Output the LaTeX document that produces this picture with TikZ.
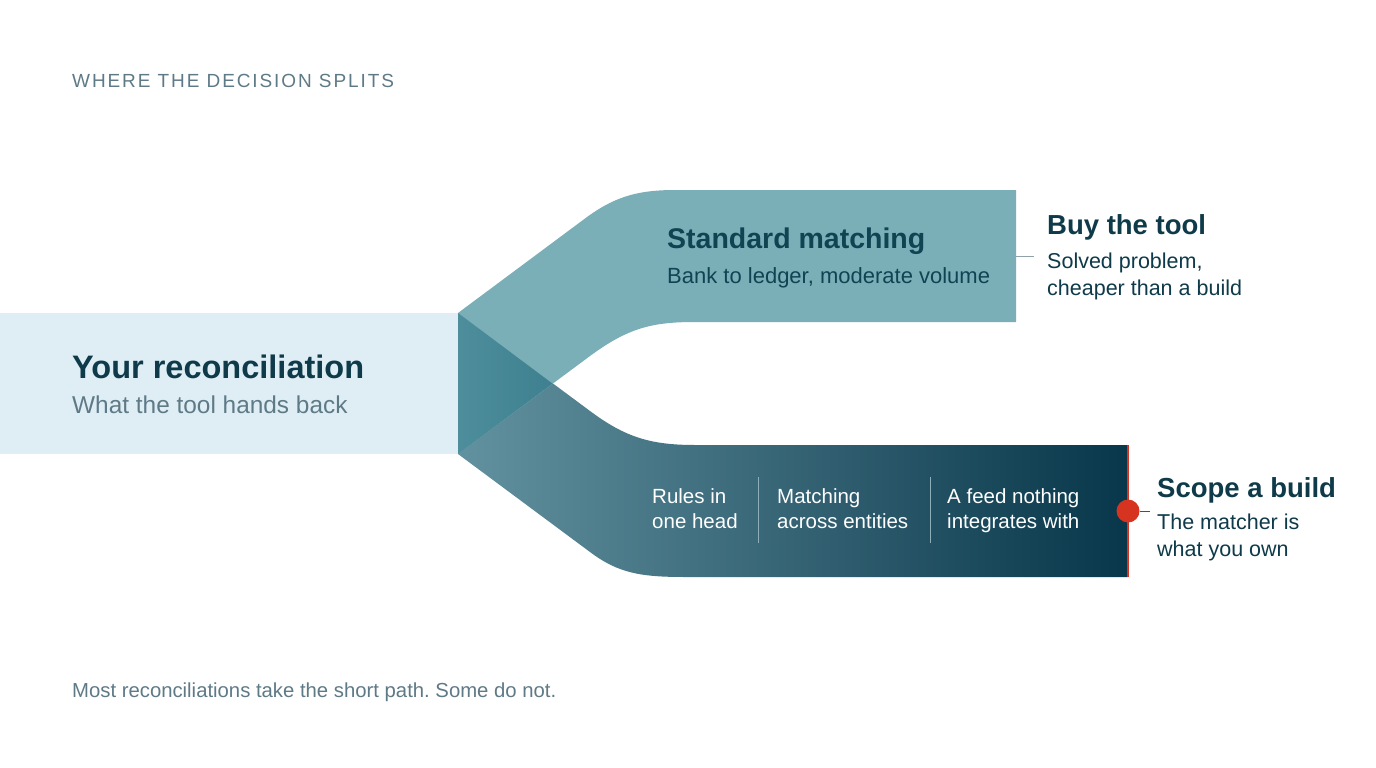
\documentclass[tikz,border=0pt]{standalone}
\usepackage{fontspec}
\setmainfont{Liberation Sans}
\newfontfamily\spacedfont[LetterSpace=10]{Liberation Sans}
\usepackage{tikz}
\usetikzlibrary{calc}
\frenchspacing

\definecolor{inkdark}{RGB}{14,58,74}
\definecolor{inkgray}{RGB}{95,122,135}
\definecolor{inkteal}{RGB}{16,68,82}
\definecolor{paleband}{RGB}{223,238,245}
\definecolor{upperband}{RGB}{122,175,184}
\definecolor{overlapL}{RGB}{78,142,156}
\definecolor{overlapR}{RGB}{62,128,143}
\definecolor{lowerL}{RGB}{98,145,159}
\definecolor{lowerM}{RGB}{24,80,100}
\definecolor{lowerR}{RGB}{8,54,74}
\definecolor{splitred}{RGB}{214,52,32}
\definecolor{divider}{RGB}{140,175,186}

\def\fsz#1{\fontsize{#1}{#1}\selectfont}

\tikzset{
	txt/.style={anchor=base west, inner sep=0pt},
	headtxt/.style={txt, font=\fsz{27.5}\bfseries, text=inkdark},
	subtxt/.style={txt, font=\fsz{21.5}, text=inkdark},
	celltxt/.style={txt, font=\fsz{20.5}, text=white},
}

\begin{document}
\begin{tikzpicture}[x=1pt, y=-1pt]
			%%%%% START %%%%%
			\useasboundingbox[fill=white] (0, 0) rectangle (1376, 768);
			
			\node[txt, font=\spacedfont\fsz{19}, text=inkgray] (title) at (72, 88) {WHERE THE DECISION SPLITS};
			
			% incoming band
			\fill[paleband] (0, 313) rectangle (458, 454);
			
			% lower branch
			\shade[left color=lowerL, middle color=lowerM, right color=lowerR]
				(458, 313) -- (590, 411) .. controls (625, 437) and (650, 445) .. (695, 445)
				-- (1128, 445) -- (1128, 577) -- (685, 577)
				.. controls (640, 577) and (618, 573) .. (590, 552) -- (458, 454) -- cycle;
			
			% upper branch
			\fill[upperband]
				(458, 313) -- (583, 220) .. controls (612, 198) and (635, 190) .. (675, 190)
				-- (1016, 190) -- (1016, 322) -- (695, 322)
				.. controls (652, 322) and (628, 328) .. (590, 356) -- (458, 454) -- cycle;
			
			% where the two cross
			\shade[left color=overlapL, right color=overlapR] (458, 313) -- (552.5, 383.6) -- (458, 454) -- cycle;
			
			\draw[splitred, line width=1.5] (1128, 445) -- (1128, 577);
			
			\node[txt, font=\fsz{32.5}\bfseries, text=inkdark] (yours) at (72, 378) {Your reconciliation};
			\node[txt, font=\fsz{24.4}, text=inkgray] (yoursub) at (72, 413) {What the tool hands back};
			
			\node[txt, font=\fsz{28.5}\bfseries, text=inkteal] (standard) at (667, 248) {Standard matching};
			\node[txt, font=\fsz{22}, text=inkteal] (standardsub) at (667, 283) {Bank to ledger, moderate volume};
			
			\node[celltxt] (rulesA) at (652, 503) {Rules in};
			\node[celltxt] (rulesB) at (652, 528) {one head};
			\node[celltxt] (entA) at (777, 503) {Matching};
			\node[celltxt] (entB) at (777, 528) {across entities};
			\node[celltxt] (feedA) at (947, 503) {A feed nothing};
			\node[celltxt] (feedB) at (947, 528) {integrates with};
			\draw[divider, line width=0.8] (758, 477) -- (758, 543);
			\draw[divider, line width=0.8] (930, 477) -- (930, 543);
			
			\node[headtxt] (buy) at (1047, 234) {Buy the tool};
			\node[subtxt] (buyA) at (1047, 268) {Solved problem,};
			\node[subtxt] (buyB) at (1047, 295) {cheaper than a build};
			\coordinate (buyedge) at (1016, 256);
			\draw[inkgray!70, line width=1] (buyedge) -- ++(18, 0);
			
			\node[headtxt] (scope) at (1157, 497) {Scope a build};
			\node[subtxt] (scopeA) at (1157, 529) {The matcher is};
			\node[subtxt] (scopeB) at (1157, 556) {what you own};
			\node[circle, fill=splitred, minimum size=23, inner sep=0pt] (dot) at (1128, 511) {};
			\draw[splitred!80!black, line width=1] (dot.east) -- ++(10, 0);
			
			\node[txt, font=\fsz{20.3}, text=inkgray] (footer) at (72, 697) {Most reconciliations take the short path. Some do not.};
			
			%%%%% END %%%%%
\end{tikzpicture}
\end{document}
